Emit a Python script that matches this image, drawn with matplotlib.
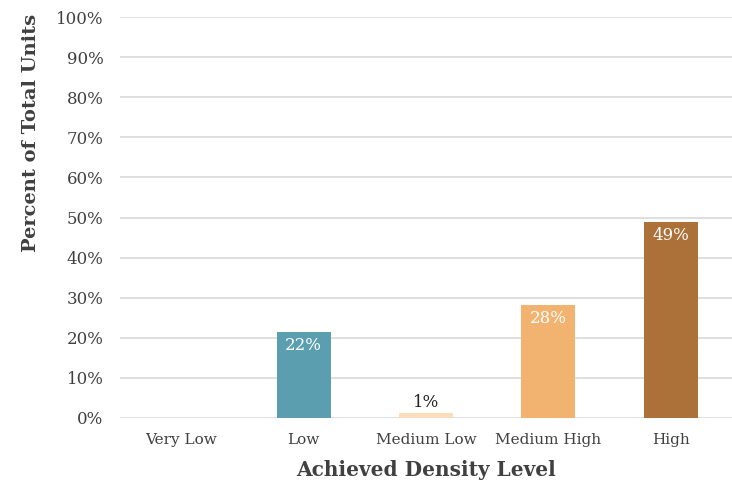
import numpy as np
import matplotlib.pyplot as plt

plt.rcParams['font.family'] = ['DejaVu Serif']

# Data
categories = ['Very Low', 'Low', 'Medium Low', 'Medium High', 'High']
values = [0.0, 21.5, 1.2, 28.2, 49.0]
labels = ['', '22%', '1%', '28%', '49%']
colors = ['#5b9eb0', '#5b9eb0', '#fbddbe', '#f3b370', '#ab7139']
label_colors = ['white', 'white', '#222222', 'white', 'white']

fig = plt.figure(figsize=(7.32, 4.83), dpi=100)
ax = fig.add_axes([120 / 732, 1 - 418 / 483, 612 / 732, 401 / 483])

x = np.arange(len(categories))
bars = ax.bar(x, values, width=0.44, color=colors, zorder=3)

for i, (b, lab) in enumerate(zip(bars, labels)):
    if not lab:
        continue
    h = b.get_height()
    if h < 5:
        ax.text(b.get_x() + b.get_width() / 2, h + 0.5, lab, ha='center', va='bottom',
                fontsize=12, color=label_colors[i])
    else:
        ax.text(b.get_x() + b.get_width() / 2, h - 1.3, lab, ha='center', va='top',
                fontsize=12, color=label_colors[i])

ax.set_xlim(-0.5, len(categories) - 0.5)
ax.set_ylim(0, 100)
ax.set_yticks(np.arange(0, 101, 10))
ax.set_yticklabels([f'{v}%' for v in range(0, 101, 10)], fontsize=12, color='#404040')
ax.set_xticks(x)
ax.set_xticklabels(categories, fontsize=11, color='#404040')
ax.tick_params(length=0, pad=11)
ax.tick_params(axis='y', pad=12)
ax.grid(axis='y', color='#d9d9d9', linewidth=1.2, zorder=0)
for s in ax.spines.values():
    s.set_visible(False)

ax.set_xlabel('Achieved Density Level', fontsize=14.5, fontweight='bold', color='#404040', labelpad=9)
ax.set_ylabel('Percent of Total Units', fontsize=14, fontweight='bold', color='#404040')
ax.yaxis.set_label_coords(-0.13, 0.71)

plt.savefig('out.png', dpi=100)
